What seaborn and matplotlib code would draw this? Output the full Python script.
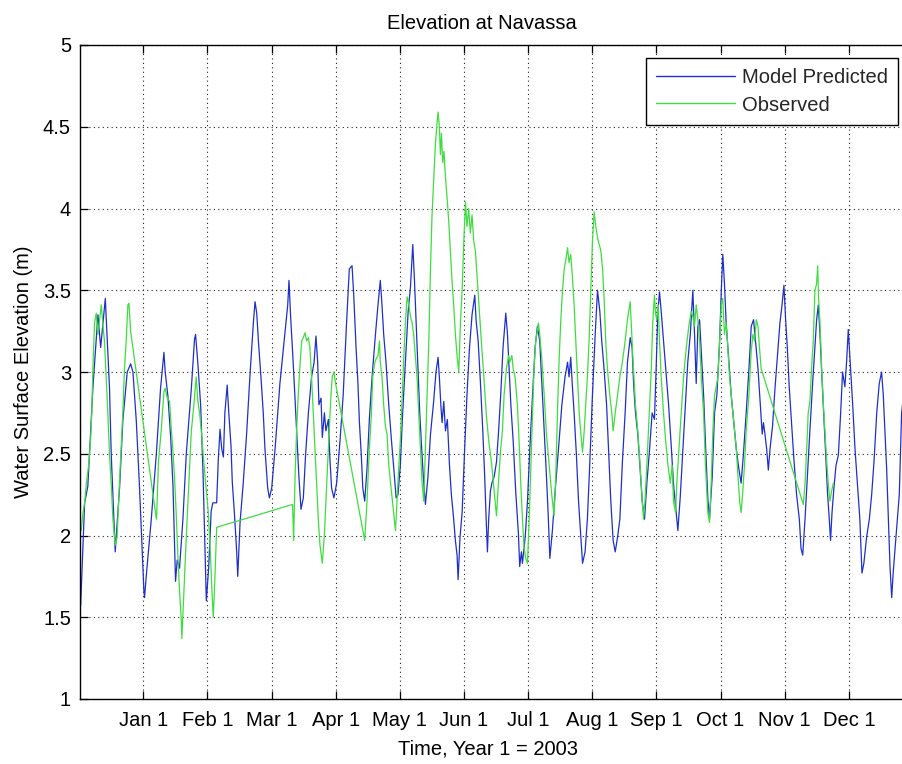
import matplotlib
matplotlib.use("Agg")
import matplotlib.pyplot as plt
import numpy as np
import pandas as pd
import seaborn as sns
from matplotlib.ticker import FuncFormatter

# Time axis: days relative to Jan 1 (Year 1 = 2003), month ticks evenly spaced
month_labels = ["Jan 1", "Feb 1", "Mar 1", "Apr 1", "May 1", "Jun 1",
                "Jul 1", "Aug 1", "Sep 1", "Oct 1", "Nov 1", "Dec 1"]
elev_ticks = [1, 1.5, 2, 2.5, 3, 3.5, 4, 4.5, 5]

# Model predicted water surface elevation (m)
model_day = [
    -29.7, -27.8, -26.3, -23.9, -22.3, -21.5, -20.2, -19.1, -18.0, -17.1,
    -16.0, -15.2, -13.9, -13.3, -11.2, -9.7, -7.6, -6.0, -4.9, -3.3,
    -1.8, -0.5, 0.3, 0.6, 1.4, 3.8, 6.2, 8.2, 9.8, 10.4,
    11.7, 13.0, 14.1, 14.8, 15.3, 16.1, 17.2, 18.8, 20.4, 22.8,
    24.3, 24.8, 25.9, 27.2, 28.3, 29.4, 29.9, 31.0, 32.2, 33.0,
    34.8, 35.6, 36.4, 37.2, 38.0, 38.7, 39.8, 40.6, 41.6, 42.2,
    43.2, 44.3, 44.8, 45.9, 47.4, 49.0, 50.6, 52.2, 53.0, 53.8,
    54.6, 55.8, 56.9, 57.7, 59.0, 59.8, 60.9, 62.5, 64.8, 67.2,
    68.5, 69.1, 69.9, 70.7, 71.6, 72.7, 73.8, 74.8, 75.9, 77.0,
    78.3, 79.8, 81.0, 81.9, 82.7, 83.3, 84.3, 84.9, 85.9, 86.6,
    87.8, 88.5, 89.3, 90.4, 91.7, 93.3, 94.8, 96.4, 97.7, 99.0,
    99.8, 100.3, 100.9, 101.8, 102.5, 103.4, 104.1, 105.0, 106.1, 107.2,
    108.5, 110.1, 111.3, 112.4, 113.2, 114.0, 115.1, 116.4, 117.7, 118.8,
    119.9, 120.8, 121.9, 123.0, 124.3, 125.6, 126.7, 127.8, 128.6, 129.4,
    130.3, 131.1, 132.2, 133.0, 133.8, 135.0, 136.2, 137.7, 138.8, 139.8,
    140.4, 141.1, 141.7, 142.5, 143.3, 144.2, 145.2, 146.1, 147.2, 148.0,
    148.8, 149.3, 150.2, 151.2, 152.4, 153.5, 154.7, 155.9, 157.2, 157.8,
    158.8, 159.9, 161.0, 161.9, 162.6, 163.2, 163.8, 164.6,
    165.3, 166.4, 167.5, 168.4, 169.5, 170.6, 171.9, 172.7, 173.5, 174.3,
    175.4, 176.6, 177.9, 178.5, 179.3, 179.8, 181.1, 182.2, 183.3, 184.6,
    185.8, 186.9, 188.0, 189.0, 190.1, 191.2, 192.1, 192.8, 194.0, 195.3,
    196.9, 198.5, 200.0, 201.2, 201.9, 202.7, 203.5, 204.3, 205.4, 206.4,
    207.5, 208.3, 209.5, 210.6, 211.7, 213.0, 214.3, 215.4, 216.5, 217.4,
    218.5, 219.7, 220.6, 221.7, 222.8, 223.8, 224.9, 226.0, 227.2, 228.5,
    229.6,
    230.9, 231.8, 232.5, 233.4, 234.5, 235.6, 236.6, 237.7, 238.8, 240.1,
    241.3, 242.4, 243.2, 244.0, 244.8, 245.6, 246.7, 248.0, 249.1, 250.3,
    251.4, 252.7, 253.5, 254.6, 255.9, 257.1, 258.2, 259.4, 260.6, 261.4,
    262.2, 263.0, 263.8, 264.6, 265.7, 266.6, 267.7, 268.5, 269.8, 270.9,
    272.0, 273.3, 274.1, 274.8, 275.6, 276.4, 277.7, 278.8, 279.9, 281.2,
    282.4, 283.5, 284.6, 285.9, 287.2, 288.3, 289.4, 290.3, 291.5, 292.6,
    293.5, 294.1,
    294.8, 295.6, 296.4, 297.2, 298.4, 299.5, 300.6, 301.9, 302.9, 303.8,
    304.6, 305.4, 306.3, 307.4, 308.5, 309.8, 311.1, 311.9, 312.7, 313.8,
    314.9, 316.1, 317.4, 318.5, 319.3, 320.1, 320.9, 321.8, 322.8, 323.7,
    324.5, 325.3, 325.9, 326.6, 327.5, 328.5, 329.6, 330.7, 331.6, 332.7,
    333.5, 334.3, 334.8, 335.4, 336.4, 337.5, 338.6, 339.8, 340.8, 341.7,
    343.0, 344.3, 345.4, 346.5, 347.8, 349.0, 350.1, 350.9, 351.7, 352.5,
    353.3, 354.1, 354.9, 355.7, 356.5, 357.6, 358.5, 359.6, 360.4,
]
model_elev = [
    1.57, 2.20, 2.30, 2.90, 3.20, 3.35, 3.15, 3.30, 3.45, 3.20,
    2.90, 2.50, 2.10, 1.90, 2.30, 2.70, 3.00, 3.05, 3.00, 2.70,
    2.30, 1.90, 1.66, 1.62, 1.75, 2.10, 2.50, 2.90, 3.12, 3.00,
    2.85, 2.60, 2.30, 1.95, 1.72, 1.85, 1.80, 2.10, 2.50, 2.90,
    3.20, 3.23, 3.05, 2.80, 2.40, 1.85, 1.60, 1.80, 2.15, 2.20,
    2.20, 2.47, 2.65, 2.53, 2.48, 2.75, 2.92, 2.74, 2.55, 2.33,
    2.14, 1.90, 1.75, 2.08, 2.32, 2.62, 2.98, 3.30, 3.43, 3.36,
    3.19, 2.97, 2.75, 2.53, 2.29, 2.23, 2.29, 2.53, 2.93, 3.24,
    3.41, 3.56, 3.33, 3.15, 2.93, 2.64, 2.36, 2.16, 2.23, 2.50,
    2.75, 2.97, 3.06, 3.22, 3.06, 2.80, 2.84, 2.60, 2.75, 2.64,
    2.71, 2.47, 2.29, 2.23, 2.32, 2.58, 2.86, 3.30, 3.63, 3.65,
    3.47, 3.32, 3.15, 2.93, 2.69, 2.49, 2.29, 2.21, 2.41, 2.71,
    2.97, 3.23, 3.41, 3.56, 3.41, 3.23, 3.06, 2.80, 2.58, 2.41,
    2.23, 2.25, 2.43, 2.75, 3.06, 3.37, 3.52, 3.78, 3.56, 3.30,
    3.02, 2.75, 2.49, 2.32, 2.19, 2.36, 2.62, 2.82, 3.00, 3.09,
    2.97, 2.80, 2.69, 2.82, 2.64, 2.71, 2.43, 2.25, 2.10, 1.97,
    1.88, 1.73, 1.99, 2.14, 2.53, 2.86, 3.15, 3.35, 3.47, 3.32,
    3.19, 2.93, 2.64, 2.36, 2.10, 1.90, 2.10, 2.27,
    2.32, 2.36, 2.45, 2.62, 2.86, 3.15, 3.36, 3.23, 3.02, 2.80,
    2.58, 2.27, 2.01, 1.81, 1.90, 1.83, 1.99, 2.21, 2.53, 2.86,
    3.15, 3.28, 3.19, 2.93, 2.64, 2.36, 2.10, 1.86, 2.03, 2.27,
    2.53, 2.80, 2.97, 3.06, 2.97, 3.09, 2.91, 2.75, 2.49, 2.21,
    1.99, 1.83, 1.90, 2.10, 2.43, 2.86, 3.23, 3.50, 3.37, 3.19,
    3.02, 2.80, 2.53, 2.21, 1.97, 1.90, 1.99, 2.10, 2.45, 2.75,
    3.06,
    3.21, 3.15, 2.93, 2.75, 2.62, 2.41, 2.21, 2.10, 2.32, 2.53,
    2.75, 2.71, 3.02, 3.37, 3.49, 3.37, 3.19, 2.97, 2.80, 2.56,
    2.32, 2.14, 2.03, 2.23, 2.53, 2.80, 3.06, 3.23, 3.50, 3.23,
    2.93, 3.28, 3.32, 3.13, 2.86, 2.56, 2.23, 2.10, 2.36, 2.75,
    2.86, 3.19, 3.50, 3.72, 3.54, 3.30, 3.06, 2.86, 2.71, 2.53,
    2.41, 2.32, 2.50, 2.75, 3.02, 3.28, 3.32, 3.19, 3.02, 2.80,
    2.62, 2.69,
    2.62, 2.53, 2.40, 2.53, 2.67, 2.89, 3.08, 3.30, 3.41, 3.53,
    3.32, 3.15, 2.91, 2.69, 2.47, 2.25, 2.10, 1.92, 1.88, 2.10,
    2.36, 2.64, 2.93, 3.15, 3.32, 3.41, 3.23, 2.97, 2.71, 2.47,
    2.25, 2.10, 1.97, 2.14, 2.29, 2.43, 2.49, 2.75, 3.00, 2.91,
    3.06, 3.26, 3.15, 3.02, 2.80, 2.53, 2.32, 2.10, 1.77, 1.83,
    1.99, 2.10, 2.25, 2.45, 2.75, 2.93, 3.00, 2.86, 2.64, 2.41,
    2.10, 1.81, 1.62, 1.79, 1.92, 2.10, 2.25, 2.75, 2.84,
]

# Observed water surface elevation (m); gaps in the record are joined by straight segments
obs_day = [
    -29.4, -28.6, -27.8, -27.0, -25.9, -25.0, -24.4, -23.9, -23.1, -22.3,
    -21.5, -20.7, -19.9, -19.1, -18.4, -17.6, -16.8, -16.0, -15.2, -14.4,
    -13.3, -12.4, -11.3, -10.5, -9.7, -8.9, -8.1, -7.3, -6.8, -6.0,
    6.0, 6.3, 7.2, 8.5, 9.8, 10.4, 11.4, 12.5, 13.2, 14.0,
    14.8, 15.6, 16.4, 17.2, 18.0, 18.3, 19.0, 19.6, 20.4, 21.2,
    22.0, 22.8, 24.0, 25.1, 25.9, 26.7, 27.8, 28.7, 29.7, 30.8,
    31.8, 32.6, 33.2, 34.0, 34.8,
    70.8, 71.3, 71.9, 72.7, 73.5, 74.3, 75.1, 75.9, 76.7, 77.5,
    78.3, 79.0, 79.8, 80.6, 81.4, 82.2, 83.0, 83.8, 84.9, 85.9,
    86.6, 87.4, 88.2, 89.0, 89.6, 90.4, 91.2,
    105.0, 106.1, 107.2, 108.2, 108.8, 109.8, 110.4, 111.3, 112.0, 112.4,
    113.2, 114.0, 114.8, 115.6, 116.4, 117.7, 118.8, 119.6, 120.3, 121.1,
    121.9, 122.7, 123.5, 124.3, 125.1, 125.9, 126.7, 127.5, 128.2, 129.0,
    129.8, 130.6, 131.4, 132.2, 133.0, 133.8, 134.6, 135.4, 136.2, 136.9,
    137.7, 138.5, 139.3, 139.8, 140.4, 140.9, 141.4, 142.0, 142.6, 143.3,
    144.1, 144.8, 145.6, 146.4, 147.2, 148.0, 148.8, 149.6, 150.4, 151.2,
    152.0, 152.8, 153.5, 154.3, 155.1, 155.9, 156.7, 157.5, 158.3, 159.1,
    160.3, 161.5, 162.6, 163.8, 165.1,
    167.5, 168.4, 169.5, 170.3, 171.1, 172.2, 173.2, 173.8, 174.8, 175.4,
    176.3, 177.4, 178.2, 179.0, 179.8, 180.6, 181.4, 182.2, 183.0, 183.8,
    184.6, 185.3, 186.1, 187.4, 188.0, 189.0, 190.1, 191.2, 192.5, 193.7,
    194.8, 195.6, 196.4, 197.2, 198.0, 198.8, 199.6, 200.4, 201.2, 201.9,
    202.7, 203.5, 204.3, 205.1, 205.9, 206.7, 207.5, 208.3, 209.1, 209.8,
    210.6, 211.4, 212.2, 213.0, 213.8, 214.6, 215.4, 216.2, 217.0, 217.8,
    218.5, 219.3, 220.1, 221.2, 222.2, 222.8, 223.8, 224.9, 226.0, 227.2,
    228.5, 229.6,
    230.9, 232.2, 233.4, 234.5, 235.6, 236.6, 237.2, 237.9, 238.8, 239.8,
    240.9, 241.6, 242.4, 242.9, 243.5, 244.2, 244.8, 245.6, 246.7, 247.7,
    248.8, 249.9, 250.8, 251.4, 252.4, 253.0, 254.0, 255.1, 256.2, 257.5,
    258.7, 259.8, 260.6, 261.4, 262.2, 263.0, 263.8, 264.6, 265.7, 266.6,
    267.7, 268.5, 269.3, 270.1, 270.9, 271.7, 272.5, 273.3, 274.1, 274.8,
    275.6, 276.4, 277.2, 278.0, 278.8, 279.6, 280.4, 281.2, 282.0, 282.8,
    283.5, 284.3, 285.1, 285.9, 287.2, 288.3, 289.1, 289.9, 290.7, 291.5,
    292.2, 293.0,
    313.0, 313.8, 314.6, 315.3, 316.1, 316.9, 317.7, 318.5, 319.3, 319.8,
    320.2, 320.9, 321.7, 322.5, 323.3, 324.0, 324.8, 325.6, 326.4, 327.2,
]
obs_elev = [
    2.03, 2.14, 2.20, 2.32, 2.43, 2.58, 2.75, 3.02, 3.30, 3.36,
    3.23, 3.32, 3.41, 3.28, 3.19, 2.97, 2.75, 2.49, 2.32, 2.10,
    1.94, 1.99, 2.32, 2.53, 2.75, 3.02, 3.19, 3.41, 3.42, 3.25,
    2.12, 2.10, 2.45, 2.64, 2.88, 2.90, 2.84, 2.82, 2.67, 2.53,
    2.36, 2.14, 1.88, 1.66, 1.49, 1.37, 1.58, 1.77, 1.99, 2.21,
    2.43, 2.64, 2.80, 2.97, 2.82, 2.75, 2.60, 2.45, 2.30, 2.15,
    1.90, 1.65, 1.50, 1.75, 2.05,
    2.19, 1.97, 2.32, 2.64, 2.86, 3.04, 3.19, 3.21, 3.24, 3.19,
    3.21, 3.15, 2.97, 2.75, 2.53, 2.32, 2.10, 1.94, 1.83, 2.01,
    2.21, 2.43, 2.64, 2.86, 2.97, 3.00, 2.93,
    1.97, 2.21, 2.53, 2.75, 2.97, 3.06, 3.08, 3.10, 3.19, 3.06,
    2.97, 2.80, 2.67, 2.62, 2.43, 2.27, 2.14, 2.03, 2.21, 2.41,
    2.58, 2.82, 3.08, 3.30, 3.46, 3.41, 3.34, 3.30, 3.23, 3.10,
    2.97, 2.75, 2.53, 2.32, 2.21, 2.53, 2.86, 3.19, 3.63, 3.95,
    4.17, 4.39, 4.52, 4.59, 4.50, 4.33, 4.46, 4.28, 4.35, 4.19,
    4.06, 3.93, 3.74, 3.56, 3.41, 3.23, 3.10, 3.00, 3.30, 3.50,
    3.80, 4.04, 3.89, 4.00, 3.85, 3.96, 3.80, 3.74, 3.58, 3.41,
    3.19, 2.97, 2.75, 2.58, 2.45,
    2.12, 2.32, 2.53, 2.64, 2.86, 3.02, 3.10, 3.06, 3.10, 3.02,
    2.97, 2.80, 2.58, 2.32, 2.10, 1.92, 1.86, 1.83, 2.10, 2.43,
    2.75, 3.02, 3.19, 3.30, 3.23, 3.08, 2.86, 2.62, 2.43, 2.25,
    2.12, 2.36, 2.75, 3.08, 3.32, 3.50, 3.63, 3.69, 3.76, 3.67,
    3.72, 3.58, 3.41, 3.19, 2.97, 2.75, 2.62, 2.51, 2.64, 2.80,
    2.97, 3.19, 3.50, 3.80, 3.98, 3.89, 3.82, 3.78, 3.74, 3.63,
    3.46, 3.19, 3.02, 2.86, 2.75, 2.64, 2.75, 2.86, 2.97, 3.06,
    3.19, 3.32,
    3.43, 3.08, 2.80, 2.64, 2.43, 2.21, 2.10, 2.21, 2.43, 2.71,
    3.02, 3.30, 3.47, 3.36, 3.32, 3.41, 3.19, 2.97, 2.75, 2.58,
    2.43, 2.32, 2.43, 2.21, 2.14, 2.32, 2.53, 2.75, 2.97, 3.15,
    3.28, 3.37, 3.34, 3.28, 3.41, 3.32, 3.19, 2.97, 2.75, 2.43,
    2.14, 2.08, 2.32, 2.64, 2.86, 2.91, 2.97, 3.19, 3.41, 3.45,
    3.23, 3.30, 3.15, 2.97, 2.86, 2.75, 2.64, 2.53, 2.36, 2.21,
    2.14, 2.27, 2.43, 2.64, 2.86, 3.13, 3.23, 3.19, 3.32, 3.28,
    3.15, 3.02,
    2.19, 2.32, 2.53, 2.75, 2.82, 3.02, 3.19, 3.50, 3.54, 3.65,
    3.46, 3.30, 3.02, 2.80, 2.62, 2.47, 2.32, 2.21, 2.27, 2.32,
]

model = pd.DataFrame({"day": model_day, "elev": model_elev})
observed = pd.DataFrame({"day": obs_day, "elev": obs_elev})

sns.set_theme(style="ticks")
plt.rcParams["font.family"] = ["Liberation Sans", "DejaVu Sans"]
FS = 14.5

W, H = 903, 764
fig = plt.figure(figsize=(W / 100, H / 100), dpi=100)
fig.patch.set_facecolor("white")
# axes run a little past the right edge of the canvas
ax = fig.add_axes([80 / W, 65 / H, 833 / W, 654 / H])
ax.set_facecolor("white")

sns.lineplot(data=model, x="day", y="elev", ax=ax, color="#1f30c8",
             linewidth=0.9, sort=False, estimator=None, label="Model Predicted")
sns.lineplot(data=observed, x="day", y="elev", ax=ax, color="#3ede3e",
             linewidth=0.9, sort=False, estimator=None, label="Observed")

ax.set_xlim(-30, 365)
ax.set_ylim(1, 5)
ax.set_xticks([i * 365 / 12 for i in range(len(month_labels))])
ax.set_xticklabels(month_labels)
ax.set_yticks(elev_ticks)
ax.yaxis.set_major_formatter(FuncFormatter(lambda v, _: f"{v:g}"))

ax.grid(True, color="#222222", linestyle=(0, (1, 3)), linewidth=0.8)
ax.tick_params(axis="both", which="major", direction="in", length=6, width=0.9,
               top=True, right=True, labelsize=FS, colors="black")
ax.tick_params(axis="x", pad=8.5)
ax.tick_params(axis="y", pad=6.5)
for s in ax.spines.values():
    s.set_color("black")
    s.set_linewidth(1.0)

ax.set_title("Elevation at Navassa", fontsize=FS, color="black", pad=11.5,
             x=0.4826)
ax.set_xlabel("Time, Year 1 = 2003", fontsize=FS, color="black")
ax.xaxis.set_label_coords(0.4898, -0.062)
ax.set_ylabel("Water Surface Elevation (m)", fontsize=FS, color="black",
              labelpad=7)

leg = ax.legend(loc="upper right", bbox_to_anchor=(898 / W, 1 - 58 / H),
                bbox_transform=fig.transFigure, frameon=True, fancybox=False,
                edgecolor="black", framealpha=1.0, fontsize=FS,
                handlelength=3.9, handletextpad=0.35, borderpad=0.5,
                labelspacing=0.42, borderaxespad=0)
leg.get_frame().set_linewidth(1.0)
for line in leg.get_lines():
    line.set_linewidth(1.0)

fig.savefig("out.png", dpi=100, facecolor="white")
